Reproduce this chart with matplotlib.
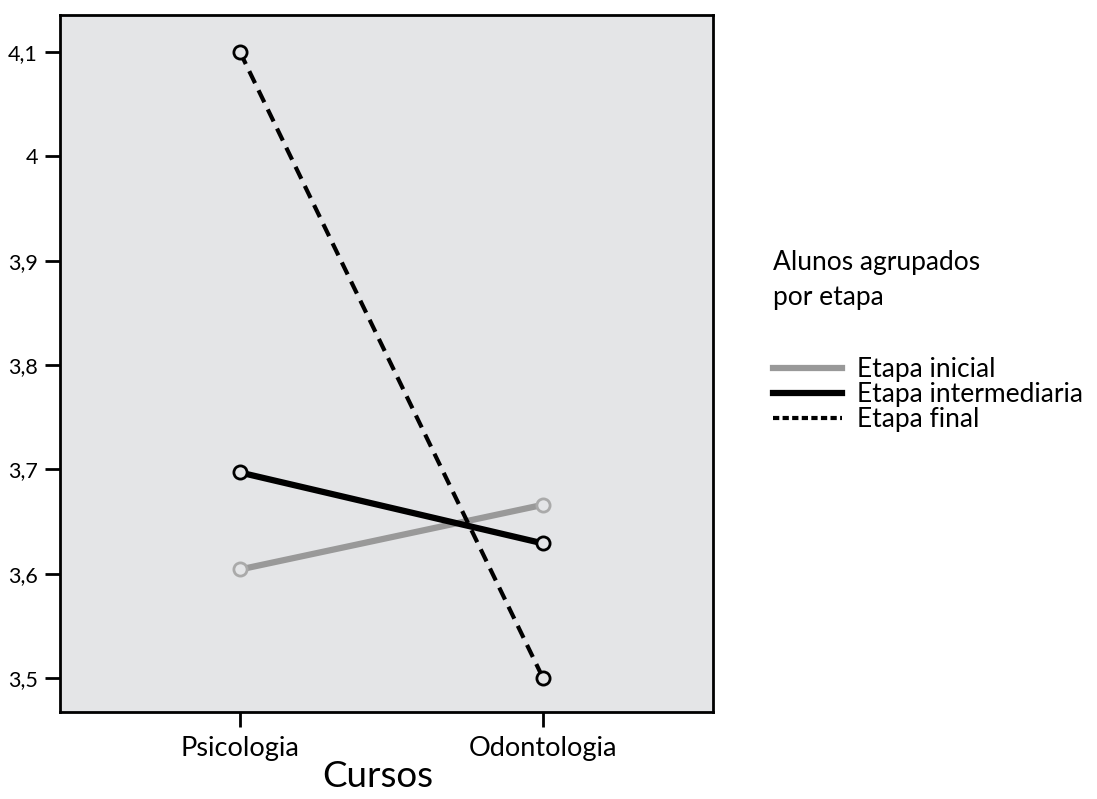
import matplotlib
matplotlib.use("Agg")
import matplotlib.pyplot as plt

plt.rcParams["font.family"] = ["Lato", "DejaVu Sans"]

# medias por curso e etapa
CURSOS = ["Psicologia", "Odontologia"]
ETAPAS = ["Etapa inicial", "Etapa intermediaria", "Etapa final"]
INICIAL = [3.604, 3.666]
INTERMEDIARIA = [3.697, 3.629]
FINAL = [4.1, 3.5]
Y_TICKS = [3.5, 3.6, 3.7, 3.8, 3.9, 4.0, 4.1]
Y_LABELS = ["3,5", "3,6", "3,7", "3,8", "3,9", "4", "4,1"]

fig = plt.figure(figsize=(10.97, 7.99), dpi=100)
ax = fig.add_axes([60 / 1097, 1 - 712 / 799, 653 / 1097, 697 / 799])
ax.set_facecolor("#e4e5e7")

x = list(range(len(CURSOS)))
styles = [
    dict(color="#999999", lw=4.5, ls="-", mec="#aaaaaa"),
    dict(color="black", lw=4.5, ls="-", mec="black"),
    dict(color="black", lw=3.0, ls=(0, (3.2, 1.9)), mec="black"),
]
for vals, name, st in zip([INICIAL, INTERMEDIARIA, FINAL], ETAPAS, styles):
    ax.plot(x, vals, color=st["color"], lw=st["lw"], ls=st["ls"], label=name,
            marker="o", ms=9.5, mfc="#e4e5e7", mec=st["mec"], mew=2, zorder=3)

ax.set_xlim(-0.594, 1.561)
ax.set_ylim(3.4674, 4.1355)
ax.set_xticks(x)
ax.set_xticklabels(CURSOS, fontsize=19.5)
ax.set_yticks(Y_TICKS)
ax.set_yticklabels(Y_LABELS, fontsize=15.5)
ax.tick_params(axis="both", direction="out", length=11, width=2, color="black")
ax.tick_params(axis="y", pad=5)
ax.tick_params(axis="x", pad=6)
for sp in ax.spines.values():
    sp.set_linewidth(2)
ax.set_xlabel("Cursos", fontsize=26.5)
ax.xaxis.set_label_coords(0.487, -0.069)

leg = ax.legend(loc="upper left", bbox_to_anchor=(773 / 1097, 1 - 250 / 799),
                bbox_transform=fig.transFigure, frameon=False, fontsize=19,
                title="Alunos agrupados\npor etapa", title_fontsize=19,
                handlelength=2.6, handletextpad=0.57, labelspacing=0.0,
                borderpad=0, borderaxespad=0, alignment="left")
leg._legend_box.sep = 34
leg.get_title().set_linespacing(1.5)
for h in leg.get_lines():
    h.set_marker("")
leg.get_lines()[2].set_linestyle((0, (1.5, 0.8)))

fig.savefig("out.png", dpi=100)
